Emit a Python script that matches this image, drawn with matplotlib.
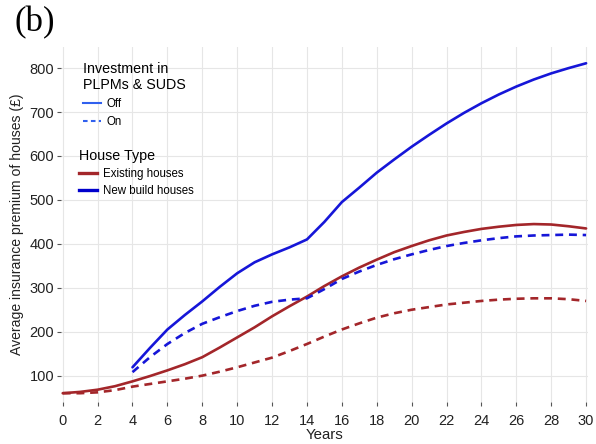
import matplotlib
matplotlib.use("Agg")
import matplotlib.pyplot as plt
from matplotlib.lines import Line2D

years_all = list(range(0, 31))
years_new = list(range(4, 31))

existing_off = [60, 63, 68, 76, 87, 99, 112, 126, 142, 164, 187, 210, 235, 258, 280, 304,
                326, 346, 364, 381, 395, 408, 419, 427, 434, 439, 443, 445, 444, 440, 435]
existing_on = [60, 60, 62, 67, 75, 81, 87, 93, 100, 109, 119, 130, 141, 156, 172, 189,
               205, 219, 232, 242, 250, 256, 262, 266, 270, 273, 275, 276, 276, 274, 270]
new_off = [119, 163, 205, 238, 269, 302, 333, 358, 376, 392, 410, 450, 495, 528, 562,
           592, 621, 648, 674, 698, 720, 740, 758, 774, 788, 800, 811]
new_on = [108, 142, 172, 197, 218, 233, 247, 259, 268, 273, 276, 297, 320, 337, 352,
          365, 376, 386, 395, 402, 408, 413, 417, 419, 420, 421, 420]

x_ticks = list(range(0, 31, 2))
y_ticks = [100, 200, 300, 400, 500, 600, 700, 800]

plt.rcParams['font.family'] = ['Liberation Sans', 'DejaVu Sans']

fig = plt.figure(figsize=(5.96, 4.44), dpi=100)
ax = fig.add_axes([0.1023, 0.0946, 0.8840, 0.7995])

red = '#a3262a'
blue = '#1616d8'
lw = 1.9
ax.plot(years_all, existing_off, color=red, lw=lw, solid_capstyle='round')
ax.plot(years_all, existing_on, color=red, lw=lw, ls=(0, (3.0, 2.2)))
ax.plot(years_new, new_off, color=blue, lw=lw, solid_capstyle='round')
ax.plot(years_new, new_on, color=blue, lw=lw, ls=(0, (3.0, 2.2)))

ax.set_xlim(-0.1, 30.1)
ax.set_ylim(40, 848)
ax.set_xticks(x_ticks)
ax.set_yticks(y_ticks)
ax.grid(True, color='#e6e6e6', lw=0.8)
ax.set_axisbelow(True)
for s in ax.spines.values():
    s.set_visible(False)
ax.tick_params(axis='both', colors='#555555', labelcolor='#222222', labelsize=10.5,
               length=3, width=0.8)
ax.tick_params(axis='x', pad=6)
ax.tick_params(axis='y', pad=2)
ax.set_xlabel('Years', fontsize=10.8, color='#222222', labelpad=-0.5)
ax.set_ylabel('Average insurance premium of houses (£)', fontsize=10.1, color='#222222',
              labelpad=4)

# legends
inv_handles = [Line2D([], [], color='#3060ee', lw=1.5),
               Line2D([], [], color='#3060ee', lw=1.5, ls=(0, (2.2, 1.6)))]
leg1 = ax.legend(inv_handles, ['Off', 'On'], title='Investment in\nPLPMs & SUDS',
                 loc='upper left', bbox_to_anchor=(78 / 596, 1 - 57 / 444),
                 bbox_transform=fig.transFigure, frameon=False, fontsize=8.3,
                 title_fontsize=10.3, handlelength=1.6, handletextpad=0.5,
                 labelspacing=0.55, borderaxespad=0, alignment='left')
ax.add_artist(leg1)
house_handles = [Line2D([], [], color=red, lw=2.4), Line2D([], [], color='#0000cc', lw=2.4)]
leg2 = ax.legend(house_handles, ['Existing houses', 'New build houses'], title='House Type',
                 loc='upper left', bbox_to_anchor=(74 / 596, 1 - 144 / 444),
                 bbox_transform=fig.transFigure, frameon=False, fontsize=8.3,
                 title_fontsize=10.3, handlelength=1.6, handletextpad=0.5,
                 labelspacing=0.45, borderaxespad=0, alignment='left')

fig.text(14 / 596, 1 - 6 / 444, '(b)', family=['Liberation Serif', 'DejaVu Serif'],
         fontsize=25, va='top', ha='left')

fig.savefig('out.png', dpi=100, facecolor='white')
